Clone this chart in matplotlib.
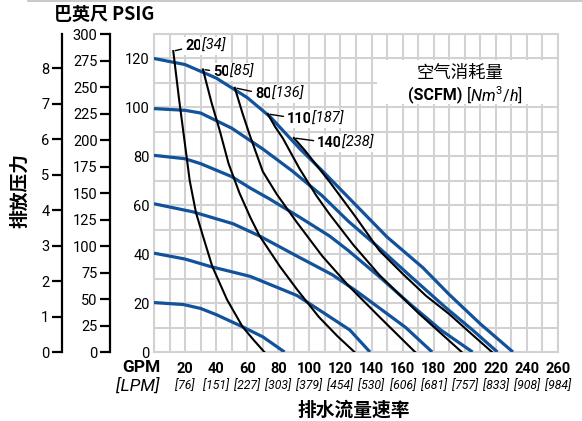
import matplotlib
matplotlib.use("Agg")
import numpy as np
import matplotlib.pyplot as plt
from matplotlib.patches import Rectangle
from matplotlib.lines import Line2D

plt.rcParams['font.family'] = ['Roboto', 'Noto Sans CJK SC', 'DejaVu Sans']
plt.rcParams['mathtext.fontset'] = 'custom'
plt.rcParams['mathtext.rm'] = 'Roboto'
plt.rcParams['mathtext.bf'] = 'Roboto:bold'
plt.rcParams['mathtext.it'] = 'Roboto:italic'

# ---- data: flow in GPM, head in PSIG ----
# blue lines = constant air inlet pressure
gpm_120 = [0, 20, 40, 60, 75, 94, 110, 130, 150, 173, 190, 210, 231]
psi_120 = [120, 117.5, 112, 104, 96, 83, 73, 60, 47, 34.5, 23.5, 11.5, 0]
gpm_100 = [0, 20, 30, 50, 70, 89, 108, 125, 145, 165, 188, 205, 221]
psi_100 = [99.5, 98.8, 97.7, 91.5, 83, 74, 64, 53.5, 42.5, 31, 18, 9, 0]
gpm_80 = [0, 20, 30, 50, 62, 74, 94, 113, 125, 145, 165, 185, 205]
psi_80 = [80.4, 79, 77, 71.7, 67, 62.7, 55, 47.4, 41.5, 30.8, 19.5, 8.8, 0]
gpm_60 = [0, 25, 51, 68, 92, 115, 130, 145, 162, 179]
psi_60 = [60.6, 57.3, 52.4, 47.4, 39.2, 31.5, 25, 18, 10, 0]
gpm_40 = [0, 20, 36, 62, 92, 108, 126, 139]
psi_40 = [40.4, 38, 35, 30.9, 23.1, 16.5, 9, 0]
gpm_20 = [0, 19, 30, 40, 57, 70, 84]
psi_20 = [20.2, 19.4, 17.8, 15.3, 10.3, 6.2, 0]

# black lines = constant air consumption
scfm = [20, 50, 80, 110, 140]
nm3h = [34, 85, 136, 187, 238]
gpm_s20 = [12.4, 16, 19.5, 23, 27, 31.5, 37.5, 47, 57, 64, 71]
psi_s20 = [123, 104, 87, 70, 57, 47.4, 35, 21.4, 10.3, 5, 0]
gpm_s50 = [31.5, 37, 42.4, 48, 55, 62, 68, 81, 92, 106, 118, 129]
psi_s50 = [115.5, 102, 90.3, 77, 65, 55, 47.4, 35, 25.6, 14.4, 6.5, 0]
gpm_s80 = [52, 57, 61.6, 70, 79, 91.7, 108.3, 125.6, 145, 168]
psi_s80 = [108, 97.5, 88.7, 73.8, 64.5, 53.2, 39.2, 26.8, 14.4, 0]
gpm_s110 = [73.2, 78, 82.9, 93.6, 104.5, 112.8, 128, 145, 170, 198]
psi_s110 = [97.3, 92, 87.4, 75, 63.9, 56.5, 44, 31.5, 16, 0]
gpm_s140 = [90, 97, 105, 113, 130, 145, 160, 175, 190, 205, 217.5]
psi_s140 = [87.5, 82.5, 76, 69.6, 55, 41.5, 32, 23, 15.5, 7, 0]

gpm_ticks = [20, 40, 60, 80, 100, 120, 140, 160, 180, 200, 220, 240, 260]
lpm_ticks = [76, 151, 227, 303, 379, 454, 530, 606, 681, 757, 833, 908, 984]
psig_ticks = [0, 20, 40, 60, 80, 100, 120]
feet_ticks = [0, 25, 50, 75, 100, 125, 150, 175, 200, 225, 250, 275, 300]
bar_ticks = [0, 1, 2, 3, 4, 5, 6, 7, 8]

blue = '#12529a'
grid_c = '#d2d2d2'
W, H = 582, 421

fig = plt.figure(figsize=(W / 100, H / 100), dpi=100)
L, B = 154 / W, 1 - 352 / H
AW, AH = (558 - 154) / W, (352 - 34) / H
ax = fig.add_axes([L, B, AW, AH])
ax.set_xlim(0, 260)
ax.set_ylim(0, 130)
ax.set_xticks(gpm_ticks)
ax.set_xticklabels([str(v) for v in gpm_ticks], fontweight='bold', fontsize=10.5)
ax.set_xticks(np.arange(0, 261, 10), minor=True)
ax.set_yticks(psig_ticks)
ax.set_yticks(np.arange(0, 131, 10), minor=True)
ax.tick_params(axis='both', which='both', length=0)
ax.tick_params(axis='y', pad=3, labelsize=10.5)
ax.tick_params(axis='x', pad=7)
ax.set_axisbelow(True)
ax.grid(which='both', color=grid_c, lw=1.5)
for s in ax.spines.values():
    s.set_color(grid_c)
    s.set_linewidth(1.5)

# title box for the air consumption lines
ax.add_patch(Rectangle((143.5, 101.5), 116.5, 18, facecolor='white', edgecolor='none', zorder=1))
ax.text(197, 114.2, '空气消耗量', ha='center', va='center', fontsize=12.5,
        family=['Noto Sans CJK SC'], zorder=2)
ax.text(198.5, 105.2, '(SCFM)', ha='right', va='center', fontsize=11.5, fontweight='bold', zorder=2)
ax.text(200.5, 105.2, r'$\mathit{[Nm^3/h]}$', ha='left', va='center', fontsize=11.5, zorder=2)

for x, y in [(gpm_120, psi_120), (gpm_100, psi_100), (gpm_80, psi_80),
             (gpm_60, psi_60), (gpm_40, psi_40), (gpm_20, psi_20)]:
    ax.plot(x, y, color=blue, lw=2.3, zorder=3, solid_capstyle='butt')

air_lines = [(gpm_s20, psi_s20), (gpm_s50, psi_s50), (gpm_s80, psi_s80),
             (gpm_s110, psi_s110), (gpm_s140, psi_s140)]
label_off = [(8.6, 3.5), (7.3, -1.8), (14.5, -4.4), (13.9, -3.5), (16.8, -3.5)]
box = dict(boxstyle='square,pad=0.15', fc='white', ec='none')
for (x, y), s, n, off in zip(air_lines, scfm, nm3h, label_off):
    ax.plot(x, y, color='black', lw=1.5, zorder=4)
    t1 = ax.annotate(str(s), xy=(x[0], y[0]), xytext=off, textcoords='offset points',
                     ha='left', va='center', fontsize=10.5, fontweight='bold', bbox=box,
                     arrowprops=dict(arrowstyle='-', color='black', lw=1, shrinkA=1, shrinkB=1.5),
                     zorder=2.5)
    ax.annotate(f'[{n}]', xy=(1, 0.5), xycoords=t1, ha='left', va='center',
                fontsize=10.5, style='italic', bbox=box, zorder=2.5)

# LPM row under GPM ticks
for g, l in zip(gpm_ticks, lpm_ticks):
    ax.text(g, -0.106, f'[{l}]', transform=ax.get_xaxis_transform(), ha='center',
            va='center', fontsize=8.8, style='italic')

# extra pressure scales on the left
for xpix, top, ticks in [(110, 130 * 2.31, feet_ticks), (62, 130 / 14.5038, bar_ticks)]:
    a = fig.add_axes([xpix / W, B, 0.0001, AH])
    a.set_ylim(0, top)
    a.set_yticks(ticks)
    a.xaxis.set_visible(False)
    a.patch.set_visible(False)
    for s in ['top', 'right', 'bottom']:
        a.spines[s].set_visible(False)
    a.spines['left'].set_linewidth(1.6)
    a.tick_params(axis='y', direction='out', length=7, width=1.6, pad=2, labelsize=10.5)

fig.text(141 / W, 1 - 367 / H, 'GPM', ha='center', va='center', fontsize=12.5, fontweight='bold')
fig.text(138 / W, 1 - 386 / H, '[LPM]', ha='center', va='center', fontsize=12.5, style='italic')
fig.text(354 / W, 1 - 410 / H, '排水流量速率', ha='center', va='center', fontsize=13.5,
         fontweight='bold', family=['Noto Sans CJK SC'])
fig.text(20 / W, 1 - 191 / H, '排放压力', ha='center', va='center', rotation=90,
         fontsize=13.5, fontweight='bold', family=['Noto Sans CJK SC'])
fig.text(104 / W, 1 - 15 / H, '巴英尺 PSIG', ha='center', va='center', fontsize=13,
         fontweight='bold', family=['Noto Sans CJK SC'])
fig.add_artist(Line2D([28 / W, 1], [1 - 1 / H, 1 - 1 / H], color='#c0c0c0', lw=1.2))

fig.savefig('out.png', dpi=100)
